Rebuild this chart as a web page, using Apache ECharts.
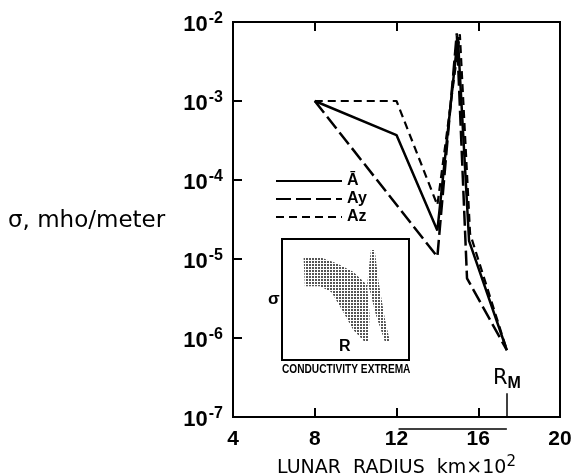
<!DOCTYPE html>
<html>
<head>
<meta charset="utf-8">
<script src="https://cdn.jsdelivr.net/npm/echarts@6/dist/echarts.min.js"></script>
<style>
html, body { margin: 0; padding: 0; background: #fff; }
#main { width: 575px; height: 473px; }
</style>
</head>
<body>
<div id="main"></div>
<script>
// main plot data: [radius (km x 100), conductivity]
const abarData = [[8, 1.0e-3], [12, 3.7e-4], [14, 2.3e-5], [15.0, 6.5e-3], [15.55, 1.7e-5], [17.4, 7e-7]];
const ayData = [[8, 1.0e-3], [14, 1.07e-5], [14.95, 7.2e-3], [15.45, 5.7e-6], [17.4, 7e-7]];
const azData = [[8, 1.0e-3], [12, 1.0e-3], [14, 4.8e-5], [15.1, 7.0e-3], [15.6, 2.1e-5], [17.4, 7e-7]];
const seriesNames = ['Ā', 'Ay', 'Az'];
const moonRadius = 17.4;

// inset sketch (arbitrary 0-100 units)
const insetBand = [[17, 85], [30, 85], [43, 80], [56, 73], [67, 62], [69, 37], [68, 15], [65, 15],
  [56, 25], [48, 40], [39, 56], [30, 61], [18, 61]];
const insetSpike = [[67, 62], [70, 91], [73, 91], [76, 65], [81, 34], [85, 15], [81, 15], [74, 37], [69, 58]];

const font = 'Liberation Sans';
const wide = 'DejaVu Sans';

// stipple pattern for the inset
const pat = document.createElement('canvas');
pat.width = 3; pat.height = 3;
const pctx = pat.getContext('2d');
pctx.fillStyle = '#555';
pctx.fillRect(0, 0, 2, 2);

const chart = echarts.init(document.getElementById('main'));

function polyRender(points) {
  return function (params, api) {
    return {
      type: 'polygon',
      shape: { points: points.map(p => api.coord(p)) },
      style: { fill: { image: pat, repeat: 'repeat' } }
    };
  };
}

const tickStyle = { inside: true, length: 9, lineStyle: { color: '#000', width: 2 } };

const option = {
  animation: false,
  backgroundColor: '#fff',
  grid: [
    { left: 233, right: 15, top: 22, bottom: 56, show: true, borderColor: '#000', borderWidth: 2, outerBoundsMode: 'none' },
    { left: 282, top: 239, width: 127, height: 121, show: true, borderColor: '#000', borderWidth: 2, backgroundColor: '#fff', z: 5, outerBoundsMode: 'none' }
  ],
  legend: {
    orient: 'vertical',
    left: 275,
    top: 173,
    itemWidth: 66,
    itemHeight: 10,
    itemGap: 2,
    padding: 0,
    data: seriesNames,
    itemStyle: { opacity: 0 },
    textStyle: { fontFamily: font, fontSize: 16, fontWeight: 'bold', color: '#000', lineHeight: 16 }
  },
  xAxis: [
    {
      type: 'value', gridIndex: 0, min: 4, max: 20, interval: 4,
      axisLine: { show: false },
      axisTick: tickStyle,
      splitLine: { show: false },
      axisLabel: { margin: 12, fontFamily: font, fontSize: 21, fontWeight: 'bold', color: '#000' },
      name: '{t|LUNAR  RADIUS  km×10}{s|2}',
      nameLocation: 'middle',
      nameGap: 35,
      nameTextStyle: {
        rich: {
          t: { fontFamily: wide, fontSize: 19, color: '#000' },
          s: { fontFamily: wide, fontSize: 15, color: '#000', padding: [0, 0, 11, 0] }
        }
      }
    },
    {
      type: 'value', gridIndex: 0, position: 'top', min: 4, max: 20, interval: 4,
      axisLine: { show: false },
      axisTick: tickStyle,
      splitLine: { show: false },
      axisLabel: { show: false }
    },
    {
      type: 'value', gridIndex: 1, min: 0, max: 100,
      axisLine: { show: false }, axisTick: { show: false }, splitLine: { show: false },
      axisLabel: { show: false }
    }
  ],
  yAxis: [
    {
      type: 'log', gridIndex: 0, logBase: 10, min: 1e-7, max: 1e-2,
      axisLine: { show: false },
      axisTick: tickStyle,
      splitLine: { show: false },
      minorTick: { show: false },
      axisLabel: {
        margin: 10,
        formatter: v => '{b|10}{s|' + Math.round(Math.log10(v)) + '}',
        rich: {
          b: { fontFamily: font, fontSize: 22, fontWeight: 'bold', color: '#000', padding: [6, 1, 0, 0] },
          s: { fontFamily: font, fontSize: 16, fontWeight: 'bold', color: '#000', padding: [0, 0, 7, 0] }
        }
      }
    },
    {
      type: 'value', gridIndex: 1, min: 0, max: 100,
      axisLine: { show: false }, axisTick: { show: false }, splitLine: { show: false },
      axisLabel: { show: false }
    }
  ],
  series: [
    {
      name: seriesNames[0], type: 'line', xAxisIndex: 0, yAxisIndex: 0,
      data: abarData, symbol: 'none', itemStyle: { color: '#000' },
      lineStyle: { color: '#000', width: 2.5, type: 'solid' },
      markLine: {
        silent: true, symbol: ['none', 'none'],
        lineStyle: { color: '#000', width: 1.5, type: 'solid' },
        label: {
          position: 'end', distance: 2,
          formatter: '{r|R}{m|M}',
          rich: {
            r: { fontFamily: wide, fontSize: 21, color: '#000' },
            m: { fontFamily: font, fontSize: 16, fontWeight: 'bold', color: '#000', padding: [9, 0, 0, 0] }
          }
        },
        data: [[{ coord: [moonRadius, 1e-7] }, { coord: [moonRadius, 2e-7] }]]
      }
    },
    {
      name: seriesNames[1], type: 'line', xAxisIndex: 0, yAxisIndex: 0,
      data: ayData, symbol: 'none', itemStyle: { color: '#000' },
      lineStyle: { color: '#000', width: 2.5, type: [15, 5] }
    },
    {
      name: seriesNames[2], type: 'line', xAxisIndex: 0, yAxisIndex: 0,
      data: azData, symbol: 'none', itemStyle: { color: '#000' },
      lineStyle: { color: '#000', width: 2.2, type: [8, 5] }
    },
    {
      type: 'custom', xAxisIndex: 2, yAxisIndex: 1, z: 6,
      data: [[0, 0]], renderItem: polyRender(insetBand), silent: true
    },
    {
      type: 'custom', xAxisIndex: 2, yAxisIndex: 1, z: 6,
      data: [[0, 0]], renderItem: polyRender(insetSpike), silent: true
    }
  ],
  graphic: [
    { type: 'text', left: 8, top: 210, style: { text: 'σ, mho/meter', font: '23px "' + wide + '"', fill: '#000' } },
    { type: 'text', left: 268, top: 291, style: { text: 'σ', font: 'bold 17px ' + font, fill: '#000' } },
    { type: 'text', left: 339, top: 339, z: 10, style: { text: 'R', font: 'bold 16px ' + font, fill: '#000' } },
    { type: 'text', x: 282, y: 363, scaleX: 0.78, style: { text: 'CONDUCTIVITY EXTREMA', font: 'bold 13px ' + font, fill: '#000' } }
  ]
};

chart.setOption(option);

// thin rule drawn under the axis between 12 and the lunar radius
const x1 = chart.convertToPixel({ xAxisIndex: 0 }, 12.1);
const x2 = chart.convertToPixel({ xAxisIndex: 0 }, moonRadius);
chart.setOption({
  graphic: option.graphic.concat([{
    type: 'line', shape: { x1: x1, y1: 429, x2: x2, y2: 429 },
    style: { stroke: '#000', lineWidth: 1.5 }
  }])
});
</script>
</body>
</html>
